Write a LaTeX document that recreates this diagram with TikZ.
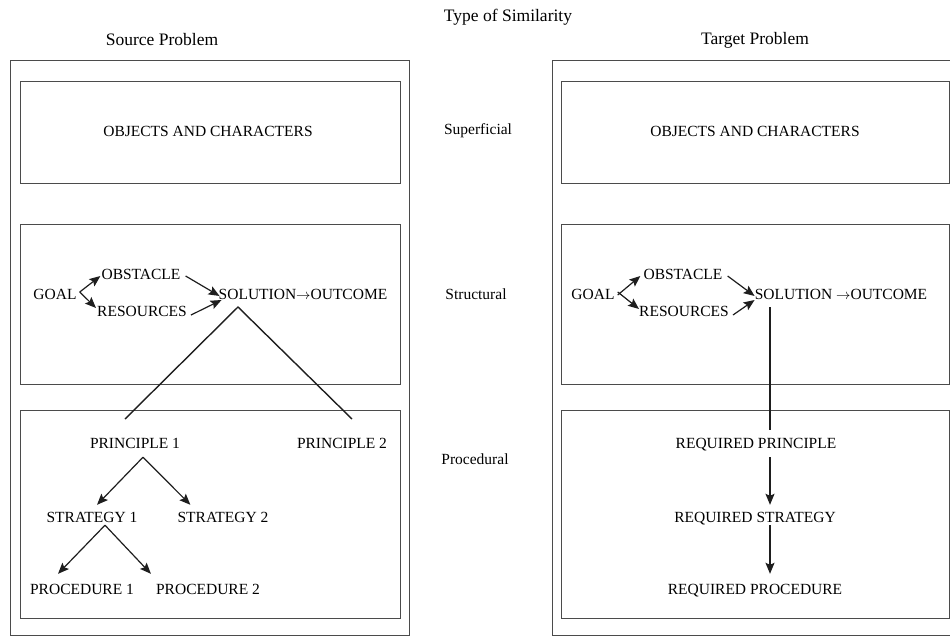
\documentclass[tikz,border=0pt]{standalone}
\usepackage{fontspec}
\setmainfont{Liberation Serif}
\usepackage{tikz}
\usetikzlibrary{arrows.meta,positioning}
\definecolor{scanink}{RGB}{30,30,30}
\newcommand{\capsize}{\fontsize{15.5}{17}\selectfont}
\newcommand{\headsize}{\fontsize{17.5}{20}\selectfont}
\tikzstyle{arrow} = [line width=1.2pt,->,>={Stealth[length=11pt,width=9pt,inset=2pt]},color=scanink]
\tikzstyle{stem} = [line width=1.4pt,color=scanink]
\tikzstyle{panel} = [line width=0.9pt,draw=scanink!80]
\tikzstyle{item} = [font=\capsize, inner sep=1pt, text height=11pt, text depth=1pt]
\tikzstyle{head} = [font=\headsize, inner sep=1pt]
\tikzstyle{level} = [font=\capsize, inner sep=1pt]

\begin{document}
\begin{tikzpicture}[x=1pt, y=-1pt]
\useasboundingbox (0,0) rectangle (950,637);
% Panels
\draw[panel] (10,60) rectangle (409,635);
\draw[panel] (20,81) rectangle (400,183);
\draw[panel] (20,224) rectangle (400,384);
\draw[panel] (20,410) rectangle (400,618);
\draw[panel] (959,60) -- (552,60) -- (552,635) -- (959,635);
\draw[panel] (561,81) rectangle (949,183);
\draw[panel] (561,224) rectangle (949,384);
\draw[panel] (561,410) rectangle (949,618);

% Headings
\node[head] (type) at (508,17) {Type of Similarity};
\node[head] (source) at (162,40) {Source Problem};
\node[head] (target) at (755,40) {Target Problem};
\node[level] (sup) at (478,131) {Superficial};
\node[level] (str) at (476,294) {Structural};
\node[level] (pro) at (475,459) {Procedural};

% Source problem
\node[item] (lobj) at (208,131) {OBJECTS AND CHARACTERS};
\node[item] (lgoal) at (55,294) {GOAL};
\node[item] (lobs) at (141,274) {OBSTACLE};
\node[item] (lres) at (142,311) {RESOURCES};
\node[item] (lsol) at (303,294) {SOLUTION$\rightarrow$OUTCOME};
\node[item] (prin1) at (135,443) {PRINCIPLE 1};
\node[item] (prin2) at (342,443) {PRINCIPLE 2};
\node[item] (strat1) at (92,517) {STRATEGY 1};
\node[item] (strat2) at (223,517) {STRATEGY 2};
\node[item] (proc1) at (82,589) {PROCEDURE 1};
\node[item] (proc2) at (208,589) {PROCEDURE 2};
\coordinate (apex) at (238,307);
\coordinate (leg1) at (125,419);
\coordinate (leg2) at (352,419);

\draw[arrow] ([xshift=2pt,yshift=2pt]lgoal.east) -- ([yshift=-2pt]lobs.west);
\draw[arrow] ([xshift=2pt,yshift=2pt]lgoal.east) -- ([yshift=3pt]lres.west);
\draw[arrow] ([xshift=4pt,yshift=-2pt]lobs.east) -- ([xshift=2pt,yshift=-2pt]lsol.west);
\draw[arrow] ([xshift=3pt,yshift=-4pt]lres.east) -- ([xshift=4pt,yshift=-6pt]lsol.west);
\draw[stem] (leg1) -- (apex) -- (leg2);

\draw[arrow] ([xshift=8pt,yshift=-7pt]prin1.south) -- ([xshift=5pt,yshift=5pt]strat1.north);
\draw[arrow] ([xshift=8pt,yshift=-7pt]prin1.south) -- ([xshift=14pt,yshift=5pt]strat2.north west);
\draw[arrow] ([xshift=13pt,yshift=-1pt]strat1.south) -- ([xshift=-24pt,yshift=8pt]proc1.north);
\draw[arrow] ([xshift=13pt,yshift=-1pt]strat1.south) -- ([xshift=-4pt,yshift=8pt]proc2.north west);

% Target problem
\node[item] (robj) at (755,131) {OBJECTS AND CHARACTERS};
\node[item] (rgoal) at (593,294) {GOAL};
\node[item] (robs) at (683,274) {OBSTACLE};
\node[item] (rres) at (684,311) {RESOURCES};
\node[item] (rsol) at (841,294) {SOLUTION $\rightarrow$OUTCOME};
\node[item] (reqprin) at (756,443) {REQUIRED PRINCIPLE};
\node[item] (reqstrat) at (755,517) {REQUIRED STRATEGY};
\node[item] (reqproc) at (755,589) {REQUIRED PROCEDURE};
\coordinate (drop) at (770,307);

\draw[arrow] ([xshift=2pt,yshift=-1pt]rgoal.east) -- ([xshift=-2pt,yshift=-2pt]robs.west);
\draw[arrow] ([xshift=2pt,yshift=2pt]rgoal.east) -- ([xshift=1pt,yshift=2pt]rres.west);
\draw[arrow] ([xshift=4pt,yshift=-2pt]robs.east) -- ([xshift=1pt,yshift=-2pt]rsol.west);
\draw[arrow] ([xshift=3pt,yshift=-4pt]rres.east) -- ([xshift=1pt,yshift=-6pt]rsol.west);
\draw[stem] (drop) -- ([yshift=6pt]reqprin.north -| drop);
\draw[arrow] ([yshift=-7pt]reqprin.south -| drop) -- ([yshift=5pt]reqstrat.north -| drop);
\draw[arrow] ([yshift=-1pt]reqstrat.south -| drop) -- ([yshift=8pt]reqproc.north -| drop);
\end{tikzpicture}
\end{document}
